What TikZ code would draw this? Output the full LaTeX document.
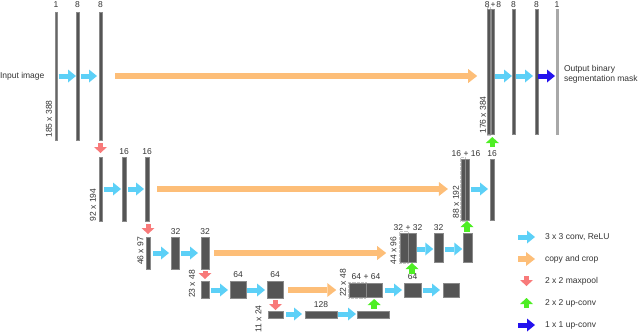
\documentclass[tikz,border=0pt]{standalone}
\usepackage{fontspec}
\setmainfont{Liberation Sans}
\usetikzlibrary{arrows.meta}
\definecolor{barfill}{HTML}{555555}
\definecolor{thinfill}{HTML}{666666}
\definecolor{lightfill}{HTML}{A8A8A8}
\definecolor{barline}{HTML}{8A8A8A}
\definecolor{txt}{HTML}{333333}
\definecolor{convc}{HTML}{5CD0F7}
\definecolor{copyc}{HTML}{FDBE78}
\definecolor{poolc}{HTML}{F87A7A}
\definecolor{upc}{HTML}{4EEE24}
\definecolor{onec}{HTML}{2412EE}
\newcommand\fs{\fontsize{8.5}{10}\selectfont}
\newcommand\mkbar[6][bar]{\node[#1, minimum width=#5pt, minimum height=#6pt] (#2) at (#3,#4) {};}
\tikzset{
  bar/.style={draw=barline, fill=barfill, line width=0.4pt, inner sep=0pt, outer sep=0pt},
  thinbar/.style={bar, fill=thinfill},
  lightbar/.style={bar, fill=lightfill, draw=lightfill},
  lbl/.style={text=txt, inner sep=0pt, outer sep=0pt, font=\fs},
  crop/.style={draw=gray!45, densely dotted, line width=0.3pt},
  conv/.style={draw=convc, line width=5pt, -{Triangle[length=8pt,width=13pt,line width=0pt]}},
  copyarr/.style={draw=copyc, line width=5.5pt, -{Triangle[length=9pt,width=14pt,line width=0pt]}},
  pool/.style={draw=poolc, line width=5pt, -{Triangle[length=6pt,width=13pt,line width=0pt]}},
  upconv/.style={draw=upc, line width=5.5pt, -{Triangle[length=6pt,width=13pt,line width=0pt]}},
  oneconv/.style={draw=onec, line width=5pt, -{Triangle[length=8pt,width=13pt,line width=0pt]}},
}
\begin{document}
\begin{tikzpicture}[x=1pt,y=-1pt]
\useasboundingbox (0,0) rectangle (640,333);
% arrow rows
\coordinate (y1) at (0,76);
\coordinate (y2) at (0,189);
\coordinate (y3l) at (0,253);
\coordinate (y3r) at (0,249);
\coordinate (y4) at (0,290);
\coordinate (y5) at (0,314);
% crop outlines (drawn first, behind bars)
\coordinate (cropA1) at (487,7.5);   \coordinate (cropA2) at (490.5,135.5);
\coordinate (cropB1) at (460.5,157.5); \coordinate (cropB2) at (465,221.5);
\coordinate (cropC1) at (399.5,231.5); \coordinate (cropC2) at (408,263.5);
\coordinate (cropD1) at (348.5,282); \coordinate (cropD2) at (366,298);
\draw[crop] (cropA1) rectangle (cropA2);
\draw[crop] (cropB1) rectangle (cropB2);
\draw[crop] (cropC1) rectangle (cropC2);
\draw[crop] (cropD1) rectangle (cropD2);
% level 1
\mkbar[thinbar]{a1}{56}{76}{2}{128}
\mkbar{a2}{77.5}{76}{3}{128}
\mkbar{a3}{100.5}{76}{3}{128}
\mkbar{rA}{488.8}{71.5}{3.2}{125}
\mkbar{rB}{492.3}{71.5}{3.2}{125}
\mkbar{r2}{513.5}{71.5}{3}{125}
\mkbar{r3}{536.5}{71.5}{3}{125}
\mkbar[lightbar]{r4}{557}{71.5}{2}{125}
% level 2
\mkbar{b1}{100.5}{189}{3}{64}
\mkbar{b2}{124}{189}{4}{64}
\mkbar{b3}{147}{189}{4}{64}
\mkbar{bA}{462.8}{189.5}{3.8}{61}
\mkbar{bB}{467}{189.5}{3.8}{61}
\mkbar{bR}{492}{189.5}{4}{61}
% level 3
\mkbar{c1}{148}{253}{4}{32}
\mkbar{c2}{175.5}{253}{8}{32}
\mkbar{c3}{205}{253}{8}{32}
\mkbar{cA}{404}{247.5}{7.6}{29}
\mkbar{cB}{412}{247.5}{7.6}{29}
\mkbar{cR1}{438.5}{247.5}{8.5}{29}
\mkbar{cR2}{467.5}{247.5}{8.5}{29}
% level 4
\mkbar{d1}{205}{289.5}{8}{17}
\mkbar{d2}{238}{289.5}{16}{17}
\mkbar{d3}{275}{289.5}{16}{17}
\mkbar{dA}{357.5}{290}{16.5}{14}
\mkbar{dB}{374.2}{290}{16}{14}
\mkbar{dR1}{412.5}{290}{17}{14}
\mkbar{dR2}{451}{290}{16}{14}
% level 5
\mkbar{e1}{275.5}{314.5}{15}{7}
\mkbar{e2}{321}{314.5}{32}{7}
\mkbar{e3}{373}{314.5}{32}{7}
% channel labels
\node[lbl] (l1a) at (56,5) {1};
\node[lbl] (l1b) at (77.5,5) {8};
\node[lbl] (l1c) at (100.5,5) {8};
\node[lbl] (l1d) at (493,5) {\spaceskip=0.8pt 8 + 8};
\node[lbl] (l1e) at (513.5,5) {8};
\node[lbl] (l1f) at (536.5,5) {8};
\node[lbl] (l1g) at (557,5) {1};
\node[lbl] (l2a) at (124,152) {16};
\node[lbl] (l2b) at (147,152) {16};
\node[lbl] (l2c) at (466,154) {16 + 16};
\node[lbl] (l2d) at (492,154) {16};
\node[lbl] (l3a) at (175.5,232) {32};
\node[lbl] (l3b) at (205,232) {32};
\node[lbl] (l3c) at (408,228) {32 + 32};
\node[lbl] (l3d) at (438.5,228) {32};
\node[lbl] (l4a) at (238,275) {64};
\node[lbl] (l4b) at (275,275) {64};
\node[lbl] (l4c) at (366,277) {64 + 64};
\node[lbl] (l4d) at (412.5,277) {64};
\node[lbl] (l5a) at (321,305) {128};
% size labels
\node[lbl, rotate=90] (s1) at (49,119) {185 x 388};
\node[lbl, rotate=90] (s1r) at (483,115) {176 x 384};
\node[lbl, rotate=90] (s2) at (93,205) {92 x 194};
\node[lbl, rotate=90] (s2r) at (456,202) {88 x 192};
\node[lbl, rotate=90] (s3) at (140.5,251) {46 x 97};
\node[lbl, rotate=90] (s3r) at (393.5,250.5) {44 x 96};
\node[lbl, rotate=90] (s4) at (192,284) {23 x 48};
\node[lbl, rotate=90] (s4r) at (343,283) {22 x 48};
\node[lbl, rotate=90] (s5) at (258.5,319) {11 x 24};
% input / output text
\node[lbl, anchor=west] (inp) at (0,76) {Input image};
\node[lbl, anchor=west, align=left] (outp) at (564,74) {Output binary\\segmentation mask};
% conv arrows
\draw[conv, shorten <=1.5pt] (a1.east |- y1) -- (a2.west |- y1);
\draw[conv, shorten <=2pt, shorten >=2pt] (a2.east |- y1) -- (a3.west |- y1);
\draw[conv, shorten <=1pt] (rB.east |- y1) -- (r2.west |- y1);
\draw[conv, shorten <=1pt, shorten >=2pt] (r2.east |- y1) -- (r3.west |- y1);
\draw[oneconv, shorten >=1pt] (r3.east |- y1) -- (r4.west |- y1);
\draw[conv, shorten <=2pt, shorten >=1pt] (b1.east |- y2) -- (b2.west |- y2);
\draw[conv, shorten <=2pt, shorten >=1pt] (b2.east |- y2) -- (b3.west |- y2);
\draw[conv, shorten <=2pt, shorten >=2pt] (bB.east |- y2) -- (bR.west |- y2);
\draw[conv, shorten <=3pt, shorten >=2.5pt] (c1.east |- y3l) -- (c2.west |- y3l);
\draw[conv, shorten <=1.5pt, shorten >=3pt] (c2.east |- y3l) -- (c3.west |- y3l);
\draw[conv, shorten <=1pt, shorten >=1pt] (cB.east |- y3r) -- (cR1.west |- y3r);
\draw[conv, shorten <=2pt, shorten >=1pt] (cR1.east |- y3r) -- (cR2.west |- y3r);
\draw[conv, shorten <=2pt, shorten >=2pt] (d1.east |- y4) -- (d2.west |- y4);
\draw[conv, shorten <=1pt, shorten >=2pt] (d2.east |- y4) -- (d3.west |- y4);
\draw[conv, shorten <=3pt, shorten >=2pt] (dB.east |- y4) -- (dR1.west |- y4);
\draw[conv, shorten <=2pt, shorten >=3pt] (dR1.east |- y4) -- (dR2.west |- y4);
\draw[conv, shorten <=3pt, shorten >=3pt] (e1.east |- y5) -- (e2.west |- y5);
\draw[conv, shorten <=1pt, shorten >=1pt] (e2.east |- y5) -- (e3.west |- y5);
% copy and crop
\draw[copyarr, shorten <=13pt, shorten >=10pt] (a3.east |- y1) -- (rA.west |- y1);
\draw[copyarr, shorten <=8pt, shorten >=13pt] (b3.east |- y2) -- (bA.west |- y2);
\draw[copyarr, shorten <=5pt, shorten >=14pt] (c3.east |- y3l) -- (cA.west |- y3l);
\draw[copyarr, shorten <=5pt, shorten >=13pt] (d3.east |- y4) -- (dA.west |- y4);
% max pool
\draw[pool, shorten <=3pt, shorten >=4pt] (a3.south) -- (a3.south |- b1.north);
\draw[pool, shorten <=3pt, shorten >=3pt] (c1.north |- b3.south) -- (c1.north);
\draw[pool, shorten <=2pt, shorten >=2pt] (c3.south) -- (d1.north);
\draw[pool, shorten <=2pt, shorten >=1pt] (e1.north |- d3.south) -- (e1.north);
% up-conv
\draw[upconv, shorten <=12pt, shorten >=3pt] (rB.south |- bR.north) -- (rB.south);
\draw[upconv, shorten <=1pt, shorten >=1pt] (bB.south |- cR2.north) -- (bB.south);
\draw[upconv, shorten <=9pt, shorten >=1pt] (cB.south |- dR1.north) -- (cB.south);
\draw[upconv, shorten <=2pt, shorten >=2pt] (dB.south |- e3.north) -- (dB.south);
% legend
\coordinate (k1a) at (518,237); \coordinate (k1b) at (535,237);
\coordinate (k2a) at (518,259); \coordinate (k2b) at (535,259);
\coordinate (k3a) at (526.5,276); \coordinate (k3b) at (526.5,286);
\coordinate (k4a) at (526.5,308); \coordinate (k4b) at (526.5,298);
\coordinate (k5a) at (518,325); \coordinate (k5b) at (535,325);
\draw[conv] (k1a) -- (k1b);
\draw[copyarr] (k2a) -- (k2b);
\draw[pool] (k3a) -- (k3b);
\draw[upconv] (k4a) -- (k4b);
\draw[oneconv] (k5a) -- (k5b);
\node[lbl, anchor=west] (t1) at (545,237) {3 x 3 conv, ReLU};
\node[lbl, anchor=west] (t2) at (545,259) {copy and crop};
\node[lbl, anchor=west] (t3) at (545,281) {2 x 2 maxpool};
\node[lbl, anchor=west] (t4) at (545,303) {2 x 2 up-conv};
\node[lbl, anchor=west] (t5) at (545,325) {1 x 1 up-conv};
\end{tikzpicture}
\end{document}
